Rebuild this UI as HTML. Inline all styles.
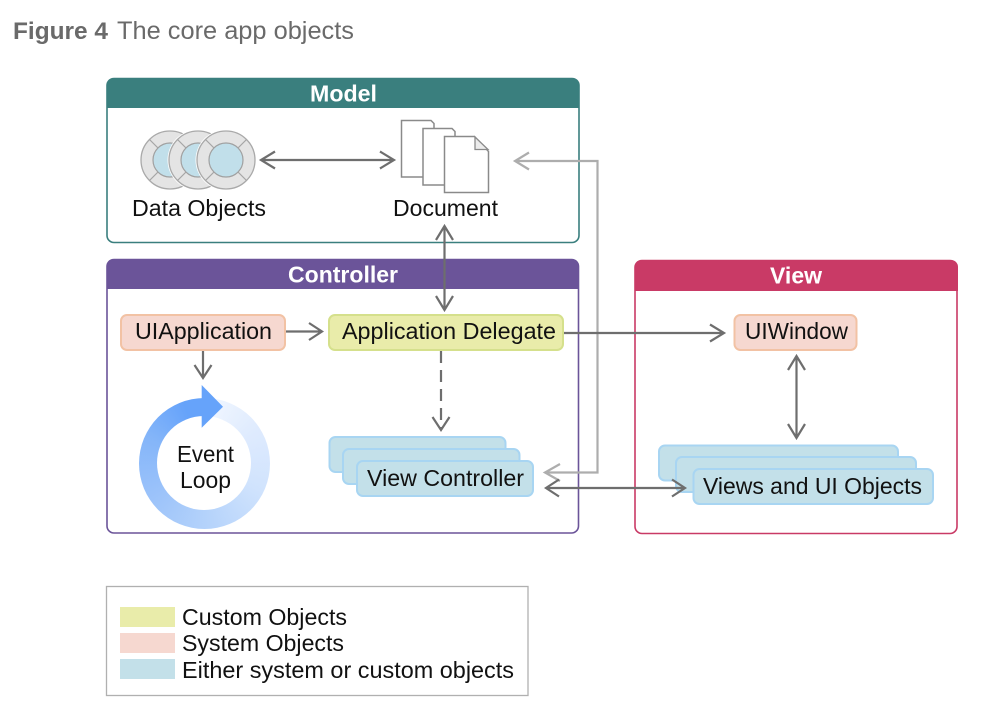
<!DOCTYPE html>
<html><head><meta charset="utf-8"><style>
html,body{margin:0;padding:0;background:#fff;width:982px;height:718px;overflow:hidden}
svg{position:absolute;left:0;top:0}
text{font-family:"Liberation Sans",sans-serif}
.t{font-size:23.300px;fill:#111}
.h{font-size:23px;font-weight:bold;fill:#fff}
.a{fill:none;stroke:#6e6e6e;stroke-width:2.2}
.l{fill:none;stroke:#adadad;stroke-width:2.2}
.pg{fill:#fff;stroke:#8a8a8a;stroke-width:1.500}
.b{fill:#c3e0e9;stroke:#a8d5f2;stroke-width:2}
#ring{position:absolute;left:138.500px;top:397.500px;width:131px;height:131px;border-radius:50%;
background:conic-gradient(from 6deg,#f0f6ff 0deg,#dfebfe 50deg,#d0e3fd 110deg,#b5d3fb 170deg,#9cc3fa 230deg,#84b5f9 290deg,#66a3fa 335deg,#66a3fa 360deg)}
#hole{position:absolute;left:18.500px;top:18.500px;width:94px;height:94px;border-radius:50%;background:#fff}
</style></head><body>
<svg width="982" height="718" viewBox="0 0 982 718">
<text x="13" y="39" font-size="24.500" font-weight="bold" fill="#6a6a6a" textLength="95" lengthAdjust="spacingAndGlyphs">Figure 4</text>
<text x="117" y="39" font-size="25" fill="#6a6a6a" textLength="237" lengthAdjust="spacingAndGlyphs">The core app objects</text>

<!-- Model -->
<rect x="107" y="78.500" width="472" height="164" rx="7" fill="#fff" stroke="#3a7f7e" stroke-width="1.600"/>
<path d="M106.500 108V85a7 7 0 0 1 7-7H572.500a7 7 0 0 1 7 7V108Z" fill="#3a7f7e"/>
<text class="h" x="310" y="101.500" textLength="67" lengthAdjust="spacingAndGlyphs">Model</text>

<!-- Controller -->
<rect x="107" y="259.500" width="471.500" height="273.500" rx="7" fill="#fff" stroke="#6b5499" stroke-width="1.600"/>
<path d="M106.500 289V266a7 7 0 0 1 7-7H572a7 7 0 0 1 7 7V289Z" fill="#6b5499"/>
<text class="h" x="288" y="282.500" textLength="110" lengthAdjust="spacingAndGlyphs">Controller</text>

<!-- View -->
<rect x="635" y="260.500" width="322" height="273" rx="7" fill="#fff" stroke="#c93a66" stroke-width="1.600"/>
<path d="M634.500 291V267a7 7 0 0 1 7-7H951a7 7 0 0 1 7 7V291Z" fill="#c93a66"/>
<text class="h" x="770" y="283.500" textLength="52" lengthAdjust="spacingAndGlyphs">View</text>

<!-- Data objects -->
<circle cx="170" cy="160" r="29" fill="#e4e4e4" stroke="#a9a9a9" stroke-width="1.300"/>
<circle cx="170" cy="160" r="17" fill="#c1dfea" stroke="#a0a0a0" stroke-width="1.200"/>
<path d="M158 148l-8.500-8.500M182 148l8.500-8.500M158 172l-8.500 8.500M182 172l8.500 8.500" stroke="#a5a5a5" stroke-width="1.200"/>
<circle cx="198" cy="160" r="30.500" fill="#fff"/>
<circle cx="198" cy="160" r="29" fill="#e4e4e4" stroke="#a9a9a9" stroke-width="1.300"/>
<circle cx="198" cy="160" r="17" fill="#c1dfea" stroke="#a0a0a0" stroke-width="1.200"/>
<path d="M186 148l-8.500-8.500M210 148l8.500-8.500M186 172l-8.500 8.500M210 172l8.500 8.500" stroke="#a5a5a5" stroke-width="1.200"/>
<circle cx="226" cy="160" r="30.500" fill="#fff"/>
<circle cx="226" cy="160" r="29" fill="#e4e4e4" stroke="#a9a9a9" stroke-width="1.300"/>
<circle cx="226" cy="160" r="17" fill="#c1dfea" stroke="#a0a0a0" stroke-width="1.200"/>
<path d="M214 148l-8.500-8.500M238 148l8.500-8.500M214 172l-8.500 8.500M238 172l8.500 8.500" stroke="#a5a5a5" stroke-width="1.200"/>
<text class="t" x="132" y="216" textLength="134" lengthAdjust="spacingAndGlyphs">Data Objects</text>

<!-- Documents -->
<path class="pg" d="M433 177H401.500V120.500H431L434 123.500V177Z"/>
<path class="pg" d="M455 185H423V128.500H452L455 131.500V185Z"/>
<path class="pg" d="M444.500 192.500V136.500H474.500L488.500 151.500V192.500Z"/>
<path d="M475 137V149.500H488Z" fill="#ececec" stroke="#8a8a8a" stroke-width="1.300"/>
<text class="t" x="393" y="216" textLength="105" lengthAdjust="spacingAndGlyphs">Document</text>

<!-- Boxes -->
<rect x="121" y="315" width="164" height="35" rx="6" fill="#f6d8d0" stroke="#f2c2a4" stroke-width="2"/>
<text class="t" x="135" y="339" textLength="137" lengthAdjust="spacingAndGlyphs">UIApplication</text>
<rect x="329" y="315" width="234" height="35" rx="6" fill="#e9ecaa" stroke="#d5e08c" stroke-width="2"/>
<text class="t" x="342" y="339" textLength="214" lengthAdjust="spacingAndGlyphs">Application Delegate</text>
<rect x="734.500" y="315" width="122" height="35" rx="6" fill="#f6d8d0" stroke="#f2c2a4" stroke-width="2"/>
<text class="t" x="745" y="339" textLength="103" lengthAdjust="spacingAndGlyphs">UIWindow</text>

<rect class="b" x="329.500" y="437" width="176" height="35" rx="6"/>
<rect class="b" x="343" y="449" width="176.500" height="35" rx="6"/>
<rect class="b" x="357" y="461" width="176" height="35" rx="6"/>
<text class="t" x="367" y="486" textLength="157" lengthAdjust="spacingAndGlyphs">View Controller</text>

<rect class="b" x="659" y="445.500" width="239" height="35" rx="6"/>
<rect class="b" x="676" y="457" width="240" height="35" rx="6"/>
<rect class="b" x="693.500" y="469" width="239.500" height="35" rx="6"/>
<text class="t" x="703" y="494" textLength="219" lengthAdjust="spacingAndGlyphs">Views and UI Objects</text>

<!-- Light connector -->
<path class="l" d="M515 161H597.500V472.500H545M529 152.500L515 161L529 169.500M560 464L545 472.500L560 481"/>

<!-- Connectors -->
<path class="a" d="M261 160H394M275 151.500L261 160L275 168.500M380 151.500L394 160L380 168.500"/>
<path class="a" d="M444.500 226V310M436 240L444.500 226L453 240M436 296L444.500 310L453 296"/>
<path class="a" d="M286 331.500H322M309 323L322 331.500L309 340"/>
<path class="a" d="M203 351V378M194.500 365L203 378L211.500 365"/>
<path class="a" d="M564 333H724M710 324.500L724 333L710 341.500"/>
<path class="a" d="M441 351V428" stroke-dasharray="12 7"/>
<path class="a" d="M432.500 417L441 430L449.500 417"/>
<path class="a" d="M546 488H685M559 479.500L546 488L559 496.500M672 479.500L685 488L672 496.500"/>
<path class="a" d="M796.500 356V438M788 370L796.500 356L805 370M788 424L796.500 438L805 424"/>

<!-- Legend -->
<rect x="106.500" y="586.500" width="421.500" height="109" fill="#fff" stroke="#b0b0b0" stroke-width="1.300"/>
<rect x="120" y="607" width="55" height="20" fill="#e9ecaa"/>
<rect x="120" y="633" width="55" height="20" fill="#f6d8d0"/>
<rect x="120" y="659" width="55" height="20" fill="#c3e0e9"/>
<text class="t" x="182" y="625" textLength="165" lengthAdjust="spacingAndGlyphs">Custom Objects</text>
<text class="t" x="182" y="651" textLength="162" lengthAdjust="spacingAndGlyphs">System Objects</text>
<text class="t" x="182" y="678" textLength="332" lengthAdjust="spacingAndGlyphs">Either system or custom objects</text>
</svg>
<div id="ring"><div id="hole"></div></div>
<svg width="982" height="718" viewBox="0 0 982 718">
<path d="M201.700 385L223 406.700L201.700 427.700Z" fill="#66a3fa"/>
<text class="t" x="177" y="462" textLength="57" lengthAdjust="spacingAndGlyphs">Event</text>
<text class="t" x="180" y="488" textLength="51" lengthAdjust="spacingAndGlyphs">Loop</text>
</svg>
</body></html>
